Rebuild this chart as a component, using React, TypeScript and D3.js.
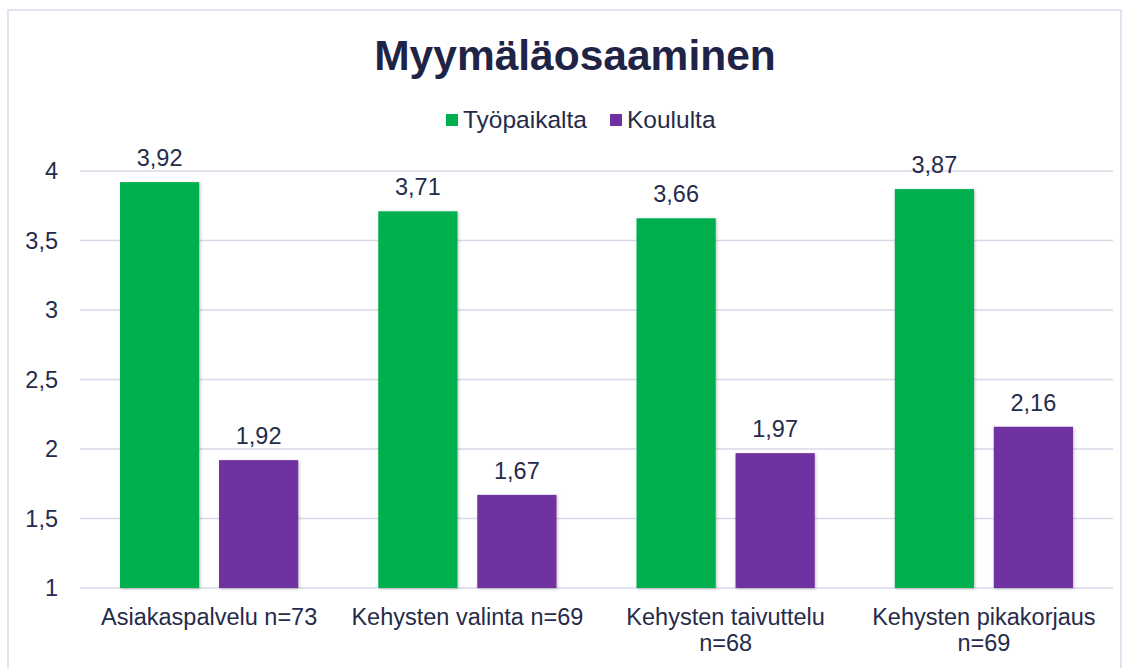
import React from 'react';
import * as d3 from 'd3';

const categories = ['Asiakaspalvelu n=73', 'Kehysten valinta n=69', 'Kehysten taivuttelu n=68', 'Kehysten pikakorjaus n=69'];
const categoryLines = [['Asiakaspalvelu n=73'], ['Kehysten valinta n=69'], ['Kehysten taivuttelu', 'n=68'], ['Kehysten pikakorjaus', 'n=69']];
const seriesNames = ['Työpaikalta', 'Koululta'];
const tyopaikalta = [3.92, 3.71, 3.66, 3.87];
const koululta = [1.92, 1.67, 1.97, 2.16];
const yTicks = [1, 1.5, 2, 2.5, 3, 3.5, 4];
const colors = ['#00b050', '#7030a0'];

const W = 1130;
const H = 668;
const textColor = '#262b4a';
const font = '"Liberation Sans", Arial, sans-serif';
const fs = 23.5;

export default function App() {
    const x0 = d3.scaleBand().domain(categories).range([80, 1113]).paddingInner(0.31).paddingOuter(0.155);
    const x1 = d3.scaleBand().domain(seriesNames).range([0, x0.bandwidth()]).paddingInner(0.2);
    const y = d3.scaleLinear().domain([1, 4]).range([588, 171]);
    const fmt = (v: number) => d3.format('.2f')(v).replace('.', ',');
    const values = [tyopaikalta, koululta];

    return (
        <svg width={W} height={H} style={{ display: 'block', position: 'absolute', left: 0, top: 0 }} fontFamily={font}>
            <defs>
                <filter id="sh" x="-10%" y="-10%" width="130%" height="130%">
                    <feDropShadow dx="1" dy="1" stdDeviation="1.5" floodColor="#000" floodOpacity="0.25" />
                </filter>
            </defs>
            <rect x={8} y={10} width={1113} height={700} fill="#fff" stroke="#d9d9ee" strokeWidth={1.5} />
            <text x={575} y={70} textAnchor="middle" fontSize={42.5} fontWeight="bold" fill="#1f2447">Myymäläosaaminen</text>

            {seriesNames.map((s, i) => {
                const lx = i === 0 ? 446 : 610;
                return (
                    <g key={s}>
                        <rect x={lx} y={114} width={12} height={12} fill={colors[i]} />
                        <text x={lx + 17} y={128} fontSize={24.5} fill={textColor}>{s}</text>
                    </g>
                );
            })}

            {yTicks.map(t => (
                <g key={t}>
                    <line x1={80} x2={1113} y1={y(t)} y2={y(t)} stroke="#d9d9ea" strokeWidth={1.5} />
                    <text x={58} y={y(t) + 8} textAnchor="end" fontSize={fs} fill={textColor}>{String(t).replace('.', ',')}</text>
                </g>
            ))}

            {categories.map((c, ci) => (
                <g key={c} transform={`translate(${x0(c)},0)`}>
                    {seriesNames.map((s, si) => {
                        const v = values[si][ci];
                        const bx = x1(s)!;
                        return (
                            <g key={s}>
                                <rect x={bx} y={y(v)} width={x1.bandwidth()} height={y(1) - y(v)} fill={colors[si]} filter="url(#sh)" />
                                <text x={bx + x1.bandwidth() / 2} y={y(v) - 16} textAnchor="middle" fontSize={fs} fill={textColor}>{fmt(v)}</text>
                            </g>
                        );
                    })}
                    {categoryLines[ci].map((line, li) => (
                        <text key={li} x={x0.bandwidth() / 2} y={625 + li * 26} textAnchor="middle" fontSize={fs} fill={textColor}>{line}</text>
                    ))}
                </g>
            ))}
        </svg>
    );
}
